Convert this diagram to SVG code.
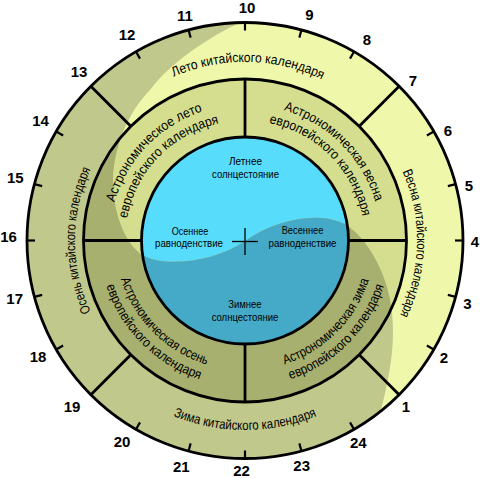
<svg xmlns="http://www.w3.org/2000/svg" width="480" height="478" viewBox="0 0 480 478">
<style>
.ln{stroke:#000;stroke-width:2.8;fill:none}
.tk{stroke:#000;stroke-width:2.2}
.num{font-family:"Liberation Sans",Arial,sans-serif;font-weight:bold;font-size:15px;text-anchor:middle;fill:#000}
.lbl{font-family:"Liberation Sans Narrow","Liberation Sans",Arial,sans-serif;font-size:13.5px;fill:#000}
.in{font-family:"Liberation Sans Narrow","Liberation Sans",Arial,sans-serif;font-size:11px;fill:#000;text-anchor:middle}
</style>
<defs>
  <clipPath id="darkClip">
    <path d="M 247 20 C 220 30 172 60 150 90 C 128 112 112 150 113 185 C 114 215 125 243 142 255 C 165 268 215 262 245 241 C 275 220 315 212 340 222 C 362 230 388 270 392 313 C 396 350 387 385 381 410 L 400 480 L 0 480 L 0 0 L 250 0 Z"/>
  </clipPath>
  <path id="cw178" d="M 90.4 151.25 A 178.5 178.5 0 0 1 399.6 151.25"/>
  <path id="cw172" d="M 96.05 154.5 A 172 172 0 0 1 393.95 154.5"/>
  <path id="cw170" d="M 97.78 155.5 A 170 170 0 0 1 392.22 155.5"/>
  <path id="cw136" d="M 127.22 172.5 A 136 136 0 0 1 362.78 172.5"/>
  <path id="cw120" d="M 141.08 180.5 A 120 120 0 0 1 348.92 180.5"/>
  <path id="ccw189" d="M 80.89 335.25 A 189.5 189.5 0 0 0 409.11 335.25"/>
  <path id="ccw130" d="M 132.42 305.5 A 130 130 0 0 0 357.58 305.5"/>
  <path id="ccw146" d="M 118.56 313.5 A 146 146 0 0 0 371.44 313.5"/>
</defs>

<g id="rings-light">
  <circle cx="245" cy="240.5" r="218" fill="#eff8aa"/>
  <circle cx="245" cy="240.5" r="161.5" fill="#d4de8e"/>
  <circle cx="245" cy="240.5" r="103.5" fill="#58dcfc"/>
</g>
<g id="rings-dark" clip-path="url(#darkClip)">
  <circle cx="245" cy="240.5" r="218" fill="#c0c88b"/>
  <circle cx="245" cy="240.5" r="161.5" fill="#a8b06f"/>
  <circle cx="245" cy="240.5" r="103.5" fill="#45aac8"/>
</g>

<g id="connectors">
  <circle class="ln" cx="245" cy="240.5" r="218"/>
  <circle class="ln" cx="245" cy="240.5" r="161.5"/>
  <circle class="ln" cx="245" cy="240.5" r="103.5"/>
  <g id="chinese-dividers">
    <line class="ln" x1="245" y1="22.5" x2="245" y2="79" transform="rotate(45 245 240.5)"/>
    <line class="ln" x1="245" y1="22.5" x2="245" y2="79" transform="rotate(135 245 240.5)"/>
    <line class="ln" x1="245" y1="22.5" x2="245" y2="79" transform="rotate(225 245 240.5)"/>
    <line class="ln" x1="245" y1="22.5" x2="245" y2="79" transform="rotate(315 245 240.5)"/>
  </g>
  <g id="european-dividers">
    <line class="ln" x1="245" y1="79" x2="245" y2="137" transform="rotate(0 245 240.5)"/>
    <line class="ln" x1="245" y1="79" x2="245" y2="137" transform="rotate(90 245 240.5)"/>
    <line class="ln" x1="245" y1="79" x2="245" y2="137" transform="rotate(180 245 240.5)"/>
    <line class="ln" x1="245" y1="79" x2="245" y2="137" transform="rotate(270 245 240.5)"/>
  </g>
  <g id="ticks">
    <line class="tk" x1="245" y1="22.5" x2="245" y2="30.5" transform="rotate(0 245 240.5)"/>
    <line class="tk" x1="245" y1="22.5" x2="245" y2="30.5" transform="rotate(15 245 240.5)"/>
    <line class="tk" x1="245" y1="22.5" x2="245" y2="30.5" transform="rotate(30 245 240.5)"/>
    <line class="tk" x1="245" y1="22.5" x2="245" y2="30.5" transform="rotate(60 245 240.5)"/>
    <line class="tk" x1="245" y1="22.5" x2="245" y2="30.5" transform="rotate(75 245 240.5)"/>
    <line class="tk" x1="245" y1="22.5" x2="245" y2="30.5" transform="rotate(90 245 240.5)"/>
    <line class="tk" x1="245" y1="22.5" x2="245" y2="30.5" transform="rotate(105 245 240.5)"/>
    <line class="tk" x1="245" y1="22.5" x2="245" y2="30.5" transform="rotate(120 245 240.5)"/>
    <line class="tk" x1="245" y1="22.5" x2="245" y2="30.5" transform="rotate(150 245 240.5)"/>
    <line class="tk" x1="245" y1="22.5" x2="245" y2="30.5" transform="rotate(165 245 240.5)"/>
    <line class="tk" x1="245" y1="22.5" x2="245" y2="30.5" transform="rotate(180 245 240.5)"/>
    <line class="tk" x1="245" y1="22.5" x2="245" y2="30.5" transform="rotate(195 245 240.5)"/>
    <line class="tk" x1="245" y1="22.5" x2="245" y2="30.5" transform="rotate(210 245 240.5)"/>
    <line class="tk" x1="245" y1="22.5" x2="245" y2="30.5" transform="rotate(240 245 240.5)"/>
    <line class="tk" x1="245" y1="22.5" x2="245" y2="30.5" transform="rotate(255 245 240.5)"/>
    <line class="tk" x1="245" y1="22.5" x2="245" y2="30.5" transform="rotate(270 245 240.5)"/>
    <line class="tk" x1="245" y1="22.5" x2="245" y2="30.5" transform="rotate(285 245 240.5)"/>
    <line class="tk" x1="245" y1="22.5" x2="245" y2="30.5" transform="rotate(300 245 240.5)"/>
    <line class="tk" x1="245" y1="22.5" x2="245" y2="30.5" transform="rotate(330 245 240.5)"/>
    <line class="tk" x1="245" y1="22.5" x2="245" y2="30.5" transform="rotate(345 245 240.5)"/>
  </g>
  <g id="cross">
    <line x1="232" y1="241.5" x2="258" y2="241.5" stroke="#000" stroke-width="1.3"/>
    <line x1="245" y1="228" x2="245" y2="255" stroke="#000" stroke-width="1.3"/>
  </g>
</g>

<g id="numbers">
  <text class="num" x="406" y="412">1</text>
  <text class="num" x="444" y="362.5">2</text>
  <text class="num" x="467.5" y="309">3</text>
  <text class="num" x="475" y="247">4</text>
  <text class="num" x="469" y="191">5</text>
  <text class="num" x="448" y="136">6</text>
  <text class="num" x="413" y="86">7</text>
  <text class="num" x="367" y="44.6">8</text>
  <text class="num" x="309.5" y="19.6">9</text>
  <text class="num" x="247" y="12.6">10</text>
  <text class="num" x="185" y="21">11</text>
  <text class="num" x="127" y="40.4">12</text>
  <text class="num" x="79" y="77">13</text>
  <text class="num" x="40.5" y="126.4">14</text>
  <text class="num" x="15.3" y="183.4">15</text>
  <text class="num" x="8.6" y="242.4">16</text>
  <text class="num" x="14.7" y="304.4">17</text>
  <text class="num" x="38" y="361.7">18</text>
  <text class="num" x="72" y="411.7">19</text>
  <text class="num" x="122" y="447">20</text>
  <text class="num" x="181.3" y="472.2">21</text>
  <text class="num" x="241.5" y="475.5">22</text>
  <text class="num" x="301.7" y="471">23</text>
  <text class="num" x="358.3" y="448.4">24</text>
</g>

<g id="chinese-summer">
  <text class="lbl" text-anchor="middle" transform="rotate(1 245 240.5)"><textPath href="#cw178" startOffset="50%" textLength="153" lengthAdjust="spacingAndGlyphs">Лето китайского календаря</textPath></text>
</g>
<g id="chinese-spring">
  <text class="lbl" text-anchor="middle" transform="rotate(91 245 240.5)"><textPath href="#cw172" startOffset="50%" textLength="148" lengthAdjust="spacingAndGlyphs">Весна китайского календаря</textPath></text>
</g>
<g id="chinese-autumn">
  <text class="lbl" text-anchor="middle" transform="rotate(-90 245 240.5)"><textPath href="#cw170" startOffset="50%" textLength="147" lengthAdjust="spacingAndGlyphs">Осень китайского календаря</textPath></text>
</g>
<g id="chinese-winter">
  <text class="lbl" text-anchor="middle"><textPath href="#ccw189" startOffset="50%" textLength="147" lengthAdjust="spacingAndGlyphs">Зима китайского календаря</textPath></text>
</g>

<g id="euro-summer">
  <text class="lbl" text-anchor="middle" transform="rotate(-46 245 240.5)"><textPath href="#cw136" startOffset="50%" textLength="132" lengthAdjust="spacingAndGlyphs">Астрономическое лето</textPath></text>
  <text class="lbl" text-anchor="middle" transform="rotate(-46 245 240.5)"><textPath href="#cw120" startOffset="50%" textLength="140" lengthAdjust="spacingAndGlyphs">европейского календаря</textPath></text>
</g>
<g id="euro-spring">
  <text class="lbl" text-anchor="middle" transform="rotate(45 245 240.5)"><textPath href="#cw136" startOffset="50%" textLength="135" lengthAdjust="spacingAndGlyphs">Астрономическая весна</textPath></text>
  <text class="lbl" text-anchor="middle" transform="rotate(45 245 240.5)"><textPath href="#cw120" startOffset="50%" textLength="140" lengthAdjust="spacingAndGlyphs">европейского календаря</textPath></text>
</g>
<g id="euro-autumn">
  <text class="lbl" text-anchor="middle" transform="rotate(45 245 240.5)"><textPath href="#ccw130" startOffset="50%" textLength="126" lengthAdjust="spacingAndGlyphs">Астрономическая осень</textPath></text>
  <text class="lbl" text-anchor="middle" transform="rotate(45 245 240.5)"><textPath href="#ccw146" startOffset="50%" textLength="137" lengthAdjust="spacingAndGlyphs">европейского календаря</textPath></text>
</g>
<g id="euro-winter">
  <text class="lbl" text-anchor="middle" transform="rotate(-45 245 240.5)"><textPath href="#ccw130" startOffset="50%" textLength="124" lengthAdjust="spacingAndGlyphs">Астрономическая зима</textPath></text>
  <text class="lbl" text-anchor="middle" transform="rotate(-45 245 240.5)"><textPath href="#ccw146" startOffset="50%" textLength="137" lengthAdjust="spacingAndGlyphs">европейского календаря</textPath></text>
</g>

<g id="summer-solstice">
  <text class="in" x="245.5" y="164.5" textLength="33" lengthAdjust="spacingAndGlyphs">Летнее</text>
  <text class="in" x="245.5" y="177.5" textLength="67" lengthAdjust="spacingAndGlyphs">солнцестояние</text>
</g>
<g id="autumn-equinox">
  <text class="in" x="190" y="235" textLength="36.6" lengthAdjust="spacingAndGlyphs">Осеннее</text>
  <text class="in" x="189" y="246.5" textLength="68" lengthAdjust="spacingAndGlyphs">равноденствие</text>
</g>
<g id="spring-equinox">
  <text class="in" x="302.5" y="234" textLength="41.6" lengthAdjust="spacingAndGlyphs">Весеннее</text>
  <text class="in" x="302.5" y="246.5" textLength="68" lengthAdjust="spacingAndGlyphs">равноденствие</text>
</g>
<g id="winter-solstice">
  <text class="in" x="245" y="308.3" textLength="33.3" lengthAdjust="spacingAndGlyphs">Зимнее</text>
  <text class="in" x="245" y="320.5" textLength="66.7" lengthAdjust="spacingAndGlyphs">солнцестояние</text>
</g>
</svg>
